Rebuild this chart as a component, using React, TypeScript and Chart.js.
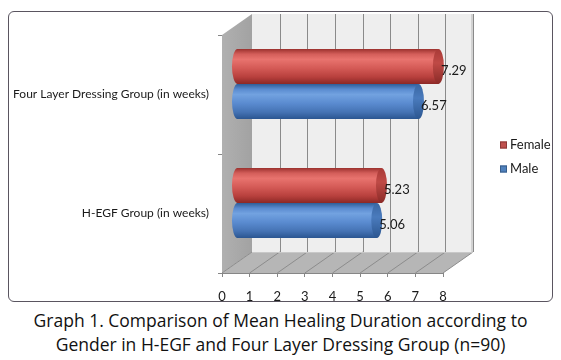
import { useEffect, useRef } from "react";
import { Chart, registerables } from "chart.js";
Chart.register(...registerables);

const categories = ["Four Layer Dressing Group (in weeks)", "H-EGF Group (in weeks)"];
const seriesNames = ["Female", "Male"];
const femaleValues = [7.29, 5.23];
const maleValues = [6.57, 5.06];
const xTicks = [0, 1, 2, 3, 4, 5, 6, 7, 8];
const captionLines = [
  "Graph 1. Comparison of Mean Healing Duration according to",
  "Gender in H-EGF and Four Layer Dressing Group (n=90)",
];

const DX = 30;
const DY = 21;
const FONT = "Lato, 'Open Sans', sans-serif";

const palettes = [
  { flat: "#c9504c", stops: ["#9a302d", "#d45e5a", "#e8736e", "#d45a56", "#b8403d", "#8c2826"], cap: ["#a83a37", "#bf4a46", "#8a2a27"], legend: "#c0504d", legendBorder: "#8c3836" },
  { flat: "#4f81c6", stops: ["#2f5d98", "#5a8bd0", "#72a2e0", "#5a8bd0", "#4573b4", "#2a5590"], cap: ["#3a67a3", "#4a7bbd", "#2c5690"], legend: "#4f81bd", legendBorder: "#385d8a" },
];

const depthPlugin = {
  id: "depth3d",
  beforeDatasetsDraw(chart: any) {
    const { ctx, chartArea: a, scales } = chart;
    const x = scales.x;
    const bl = a.left + DX, bt = a.top - DY, br = a.right + DX, bb = a.bottom - DY;
    ctx.save();
    // back wall
    ctx.fillStyle = "#eeeeee";
    ctx.fillRect(bl, bt, br - bl, bb - bt);
    ctx.fillStyle = "#d2d2d2";
    ctx.fillRect(br - 2, bt, 2, bb - bt);
    ctx.strokeStyle = "#8a8a8a";
    ctx.lineWidth = 1;
    for (const v of xTicks) {
      if (v === 0) continue;
      const px = Math.round(x.getPixelForValue(v) + DX) + 0.5;
      ctx.beginPath();
      ctx.moveTo(px, bt);
      ctx.lineTo(px, bb);
      ctx.stroke();
    }
    // left wall
    const lg = ctx.createLinearGradient(a.left, 0, bl, 0);
    lg.addColorStop(0, "#b0b0b0");
    lg.addColorStop(1, "#a2a2a2");
    ctx.fillStyle = lg;
    ctx.beginPath();
    ctx.moveTo(a.left, a.top);
    ctx.lineTo(bl, bt);
    ctx.lineTo(bl, bb);
    ctx.lineTo(a.left, a.bottom);
    ctx.closePath();
    ctx.fill();
    // floor
    ctx.fillStyle = "#b6b6b6";
    ctx.beginPath();
    ctx.moveTo(a.left, a.bottom);
    ctx.lineTo(bl, bb);
    ctx.lineTo(br, bb);
    ctx.lineTo(a.right, a.bottom);
    ctx.closePath();
    ctx.fill();
    ctx.strokeStyle = "#8c8c8c";
    for (const v of xTicks) {
      const px = x.getPixelForValue(v);
      ctx.beginPath();
      ctx.moveTo(px, a.bottom);
      ctx.lineTo(px + DX, bb);
      ctx.stroke();
    }
    ctx.strokeStyle = "#c8c8c8";
    ctx.beginPath();
    ctx.moveTo(bl, bb + 0.5);
    ctx.lineTo(br, bb + 0.5);
    ctx.stroke();
    ctx.restore();
    ctx.save();
    ctx.translate(DX / 2, -DY / 2);
  },
  afterDatasetsDraw(chart: any) {
    const { ctx } = chart;
    chart.data.datasets.forEach((ds: any, di: number) => {
      const meta = chart.getDatasetMeta(di);
      const pal = palettes[di];
      meta.data.forEach((el: any, i: number) => {
        const p = el.getProps(["x", "y", "base", "height"], true);
        const h = p.height;
        const top = p.y - h / 2, bot = p.y + h / 2;
        const rx = 5.5;
        const g = ctx.createLinearGradient(0, top, 0, bot);
        const offs = [0, 0.15, 0.3, 0.55, 0.8, 1];
        pal.stops.forEach((c: string, k: number) => g.addColorStop(offs[k], c));
        ctx.fillStyle = g;
        ctx.beginPath();
        ctx.moveTo(p.x, top);
        ctx.lineTo(p.base, top);
        ctx.ellipse(p.base, p.y, rx, h / 2, 0, -Math.PI / 2, Math.PI / 2, true);
        ctx.lineTo(p.x, bot);
        ctx.closePath();
        ctx.fill();
        const cg = ctx.createLinearGradient(0, top, 0, bot);
        cg.addColorStop(0, pal.cap[0]);
        cg.addColorStop(0.4, pal.cap[1]);
        cg.addColorStop(1, pal.cap[2]);
        ctx.fillStyle = cg;
        ctx.beginPath();
        ctx.ellipse(p.x, p.y, rx, h / 2, 0, 0, Math.PI * 2);
        ctx.fill();
        ctx.fillStyle = "#1a1a1a";
        ctx.font = `13px ${FONT}`;
        ctx.textAlign = "left";
        ctx.textBaseline = "middle";
        ctx.fillText(ds.data[i].toFixed(2), p.x + 2.5, p.y + 4);
      });
    });
    ctx.restore();
    // legend
    ctx.save();
    const legendX = 491;
    const legendYs = [133, 157];
    seriesNames.forEach((name, i) => {
      const pal = palettes[i];
      ctx.fillStyle = pal.legend;
      ctx.fillRect(legendX, legendYs[i] - 3.5, 7, 7);
      ctx.strokeStyle = pal.legendBorder;
      ctx.lineWidth = 1;
      ctx.strokeRect(legendX + 0.5, legendYs[i] - 3, 6, 6);
      ctx.fillStyle = "#1a1a1a";
      ctx.font = `13px ${FONT}`;
      ctx.textAlign = "left";
      ctx.textBaseline = "middle";
      ctx.fillText(name, legendX + 10, legendYs[i]);
    });
    ctx.restore();
  },
};

export default function App() {
  const ref = useRef<HTMLCanvasElement | null>(null);
  useEffect(() => {
    if (!ref.current) return;
    const chart = new Chart(ref.current, {
      type: "bar",
      data: {
        labels: categories,
        datasets: [
          { label: seriesNames[0], data: femaleValues, backgroundColor: palettes[0].flat, borderWidth: 0, clip: false as any },
          { label: seriesNames[1], data: maleValues, backgroundColor: palettes[1].flat, borderWidth: 0, clip: false as any },
        ],
      },
      options: {
        indexAxis: "y",
        animation: false,
        responsive: true,
        maintainAspectRatio: false,
        datasets: { bar: { categoryPercentage: 0.59, barPercentage: 1 } },
        layout: { padding: { top: 23, right: 109, left: 0, bottom: 0 } },
        plugins: { legend: { display: false }, tooltip: { enabled: false } },
        scales: {
          x: {
            min: 0,
            max: 8,
            z: 1,
            afterFit: (s: any) => { s.height = 28; },
            afterBuildTicks: (s: any) => { s.ticks = xTicks.map((v) => ({ value: v })); },
            grid: { display: true, drawOnChartArea: false, drawTicks: true, tickLength: 4, color: "#868686" },
            border: { display: true, color: "#868686" },
            ticks: { padding: 12, color: "#1a1a1a", font: { family: FONT, size: 13 } },
          },
          y: {
            z: 1,
            afterFit: (s: any) => { s.width = 213; },
            grid: { display: true, drawOnChartArea: false, drawTicks: true, tickLength: 4, color: "#868686" },
            border: { display: true, color: "#868686" },
            ticks: { padding: 9, color: "#1a1a1a", font: { family: FONT, size: 12 } },
          },
        },
      } as any,
      plugins: [depthPlugin],
    });
    return () => chart.destroy();
  }, []);
  return (
    <div style={{ width: 545 }}>
      <div
        style={{
          marginTop: 3,
          width: 545,
          height: 291,
          boxSizing: "border-box",
          border: "1px solid #5a5560",
          borderRadius: 6,
          position: "relative",
          background: "#ffffff",
        }}
      >
        <div style={{ position: "absolute", left: 0, top: 0, width: 543, height: 289 }}>
          <canvas ref={ref} />
        </div>
      </div>
      <div
        style={{
          marginTop: 6,
          textAlign: "center",
          fontFamily: "'Open Sans', sans-serif",
          fontSize: 17.5,
          lineHeight: "24px",
          color: "#111",
        }}
      >
        {captionLines.map((l, i) => (
          <div key={i}>{l}</div>
        ))}
      </div>
    </div>
  );
}
